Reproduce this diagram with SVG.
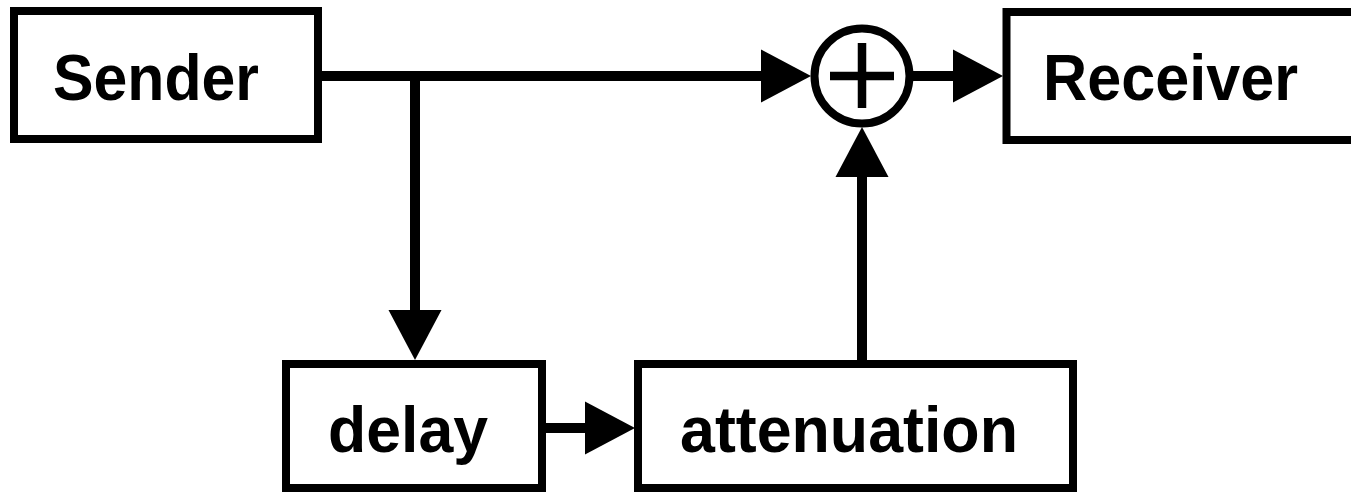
<svg xmlns="http://www.w3.org/2000/svg" width="1351" height="493" viewBox="0 0 1351 493">
  <style>
    .box { fill: #fff; stroke: #000; stroke-width: 8; }
    .lbl { font-family: "Liberation Sans", Arial, sans-serif; font-weight: bold; font-size: 65px; fill: #000; }
    .wire { fill: none; stroke: #000; stroke-width: 10; }
    .head { fill: #000; stroke: none; }
  </style>
  <rect width="1351" height="493" fill="#fff"/>

  <!-- signal paths -->
  <g id="connectors">
    <!-- Sender to summing junction, with branch down to delay -->
    <path class="wire" d="M322 76 H762"/>
    <polygon class="head" points="761,49.5 811,76 761,102.5"/>
    <path class="wire" d="M415 71 V311"/>
    <polygon class="head" points="388.5,310 441.5,310 415,360"/>
    <!-- delay to attenuation -->
    <path class="wire" d="M546 428 H586"/>
    <polygon class="head" points="585,401.5 635,428 585,454.5"/>
    <!-- attenuation up to summing junction -->
    <path class="wire" d="M862 360 V176"/>
    <polygon class="head" points="835.5,177 888.5,177 862,127"/>
    <!-- summing junction to Receiver -->
    <path class="wire" d="M912 76 H954"/>
    <polygon class="head" points="953,49.5 1003,76 953,102.5"/>
  </g>

  <g id="sender">
    <rect class="box" x="14" y="11" width="304" height="128"/>
    <text class="lbl" x="53" y="100" textLength="206" lengthAdjust="spacingAndGlyphs">Sender</text>
  </g>

  <g id="sum">
    <circle cx="862" cy="76" r="47.5" fill="#fff" stroke="#000" stroke-width="8"/>
    <path d="M830 76 H894 M862 43 V108" stroke="#000" stroke-width="8.5" fill="none"/>
  </g>

  <g id="receiver">
    <rect class="box" x="1006.5" y="12" width="360" height="128"/>
    <text class="lbl" x="1043" y="100" textLength="255" lengthAdjust="spacingAndGlyphs">Receiver</text>
  </g>

  <g id="delay">
    <rect class="box" x="286" y="364" width="256" height="124"/>
    <text class="lbl" x="328" y="452" textLength="160" lengthAdjust="spacingAndGlyphs">delay</text>
  </g>

  <g id="attenuation">
    <rect class="box" x="638" y="364" width="435" height="124"/>
    <text class="lbl" x="680" y="452" textLength="338" lengthAdjust="spacingAndGlyphs">attenuation</text>
  </g>
</svg>
